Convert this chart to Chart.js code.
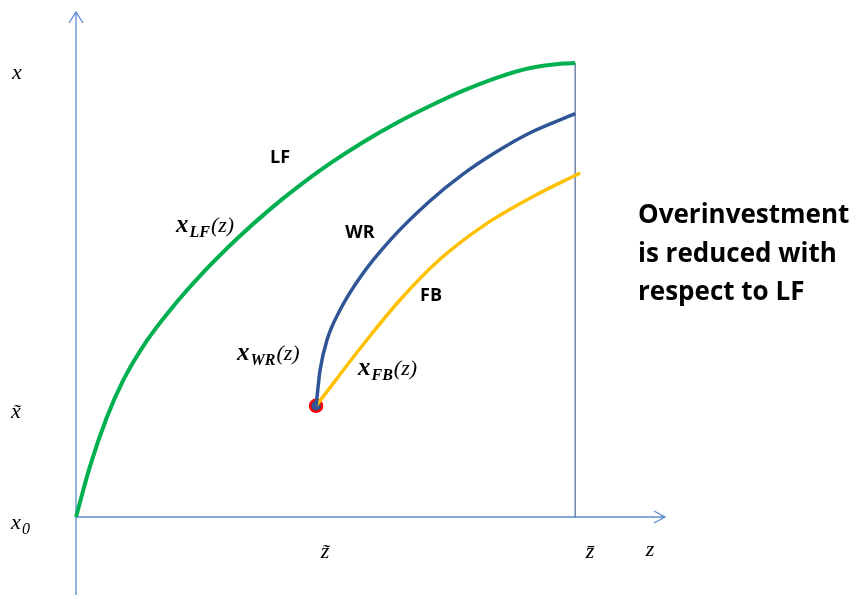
<!DOCTYPE html>
<html>
<head>
<meta charset="utf-8">
<script src="https://cdn.jsdelivr.net/npm/chart.js@4.4.1/dist/chart.umd.min.js"></script>
<style>
  body { margin: 0; background: #fff; }
  #wrap { width: 858px; height: 599px; }
</style>
</head>
<body>
<div id="wrap"><canvas id="graf" width="858" height="599"></canvas></div>
<script>
// curva LF (laissez-faire), z sull'asse orizzontale, x su quello verticale
const lfZ = [0, 0.28, 0.62, 0.94, 1.42, 1.88, 2.55, 3.23, 3.89, 4.49, 5.09, 5.75, 6.43, 7.09, 7.76, 8.44, 9.10, 9.76, 10]
const lfX = [0, 1.12, 2.21, 3.01, 3.90, 4.57, 5.41, 6.16, 6.81, 7.34, 7.82, 8.29, 8.72, 9.09, 9.43, 9.72, 9.93, 10.03, 10.04]

// curva WR
const wrZ = [4.81, 4.89, 5.03, 5.29, 5.69, 6.29, 7.09, 7.76, 8.44, 9.10, 10]
const wrX = [2.46, 3.25, 3.92, 4.58, 5.30, 6.12, 6.99, 7.59, 8.09, 8.50, 8.92]

// curva FB
const fbZ = [4.81, 5.83, 6.49, 7.29, 8.16, 9.16, 10.10]
const fbX = [2.46, 3.92, 4.80, 5.70, 6.44, 7.09, 7.61]

// valori notevoli sugli assi
const zTicks = [4.81, 10]
const zTickLabels = ['z\u0303', 'z\u0304']
const xTicks = [0, 2.46, 10]
const xTickLabels = ['x0', 'x\u0303', 'x']

const noteLines = ['Overinvestment', 'is reduced with', 'respect to LF']

const punti = (zs, xs) => zs.map((z, i) => ({ x: z, y: xs[i] }))

// disegno assi, frecce ed etichette
const assiPlugin = {
  id: 'assiPlugin',
  beforeDatasetsDraw(chart) {
    const c = chart.ctx
    const sx = chart.scales.x, sy = chart.scales.y
    const ca = chart.chartArea
    const x0 = sx.getPixelForValue(0), y0 = sy.getPixelForValue(0)
    c.save()
    c.strokeStyle = '#5b8bd0'
    c.lineWidth = 1.3
    c.beginPath()
    c.moveTo(x0, chart.height - 4); c.lineTo(x0, ca.top)
    c.moveTo(x0 - 7, ca.top + 11); c.lineTo(x0, ca.top); c.lineTo(x0 + 7, ca.top + 11)
    c.moveTo(x0, y0); c.lineTo(ca.right, y0)
    c.moveTo(ca.right - 11, y0 - 6); c.lineTo(ca.right, y0); c.lineTo(ca.right - 11, y0 + 6)
    c.stroke()
    // linea verticale in z barra
    const xb = sx.getPixelForValue(zTicks[1])
    c.strokeStyle = '#4a6590'
    c.lineWidth = 1.2
    c.beginPath()
    c.moveTo(xb, sy.getPixelForValue(lfX[lfX.length - 1])); c.lineTo(xb, y0)
    c.stroke()
    c.restore()
  },
  afterDatasetsDraw(chart) {
    const c = chart.ctx
    const sx = chart.scales.x, sy = chart.scales.y
    c.save()
    c.fillStyle = '#000'
    c.textBaseline = 'alphabetic'
    // etichette asse verticale
    c.font = 'italic 22px "Liberation Serif"'
    c.textAlign = 'left'
    c.fillText('x', 12, sy.getPixelForValue(xTicks[2]) + 14)
    c.fillText(xTickLabels[1], 11, sy.getPixelForValue(xTicks[1]) + 12)
    c.fillText('x', 11, sy.getPixelForValue(xTicks[0]) + 12)
    c.font = 'italic 16px "Liberation Serif"'
    c.fillText('0', 22, sy.getPixelForValue(xTicks[0]) + 17)
    // etichette asse orizzontale
    c.font = 'italic 22px "Liberation Serif"'
    c.textAlign = 'center'
    c.fillText(zTickLabels[0], sx.getPixelForValue(zTicks[0]) + 9, 558)
    c.fillText(zTickLabels[1], sx.getPixelForValue(zTicks[1]) + 15, 558)
    c.fillText('z', 650, 556)

    // nomi delle curve
    c.font = 'bold 18px "Open Sans"'
    c.textAlign = 'center'
    c.fillText('LF', 280, 163)
    c.fillText('WR', 360, 238)
    c.fillText('FB', 431, 301)

    const funz = (sub, x, y) => {
      c.textAlign = 'left'
      c.font = 'bold italic 25px "Liberation Serif"'
      c.fillText('x', x, y)
      let w = c.measureText('x').width
      c.font = 'bold italic 16px "Liberation Serif"'
      c.fillText(sub, x + w + 1, y + 5)
      w += 1 + c.measureText(sub).width
      c.font = 'italic 22px "Liberation Serif"'
      c.fillText('(z)', x + w + 1, y)
    }
    funz('LF', 176, 232)
    funz('WR', 237, 360)
    funz('FB', 358, 375)

    // nota a destra
    c.font = 'bold 26px "Open Sans"'
    c.textAlign = 'left'
    noteLines.forEach((t, i) => c.fillText(t, 638, 223 + i * 38.5))
    c.restore()
  }
}

const myChart = new Chart(document.getElementById('graf'), {
  type: 'scatter',
  data: {
    datasets: [
      { data: punti(lfZ, lfX), showLine: true, borderColor: '#00b050', borderWidth: 4, pointRadius: 0, cubicInterpolationMode: 'monotone', clip: false },
      { data: punti(wrZ, wrX), showLine: true, borderColor: '#2f5597', borderWidth: 3.5, pointRadius: 0, cubicInterpolationMode: 'monotone', clip: false },
      { data: punti(fbZ, fbX), showLine: true, borderColor: '#ffc000', borderWidth: 3.5, pointRadius: 0, cubicInterpolationMode: 'monotone', clip: false },
      { data: [{ x: wrZ[0], y: wrX[0] }], pointRadius: 6, backgroundColor: '#2f5597', borderColor: '#ff0000', borderWidth: 2.5, clip: false }
    ]
  },
  options: {
    responsive: false,
    animation: false,
    events: [],
    layout: { padding: { left: 76, right: 193, top: 12, bottom: 82 } },
    scales: {
      x: { type: 'linear', min: 0, max: 11.8, display: false },
      y: { type: 'linear', min: 0, max: 11.17, display: false }
    },
    plugins: { legend: { display: false }, tooltip: { enabled: false } }
  },
  plugins: [assiPlugin]
})
</script>
</body>
</html>
